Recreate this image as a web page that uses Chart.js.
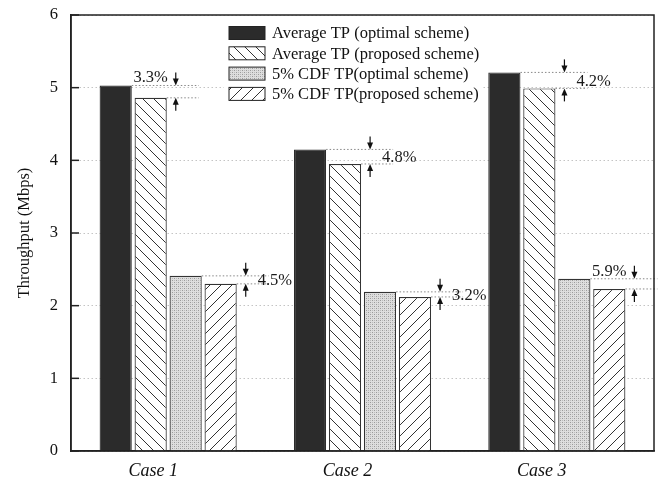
<!DOCTYPE html>
<html>
<head>
<meta charset="utf-8">
<script src="https://cdn.jsdelivr.net/npm/chart.js@4.4.0/dist/chart.umd.min.js"></script>
<style>
  html, body { margin: 0; padding: 0; background: #fff; }
  #wrap { width: 661px; height: 484px; }
</style>
</head>
<body>
<div id="wrap"><canvas id="chart" width="661" height="484"></canvas></div>
<script>
// data
const categories = ['Case 1', 'Case 2', 'Case 3'];
const avgOptimal = [5.03, 4.15, 5.21];
const avgProposed = [4.86, 3.95, 4.99];
const cdfOptimal = [2.41, 2.19, 2.37];
const cdfProposed = [2.30, 2.12, 2.23];
const avgGapLabels = ['3.3%', '4.8%', '4.2%'];
const cdfGapLabels = ['4.5%', '3.2%', '5.9%'];
const seriesNames = [
    'Average TP (optimal scheme)',
    'Average TP (proposed scheme)',
    '5% CDF TP(optimal scheme)',
    '5% CDF TP(proposed scheme)'
];

// where each gap label sits
const avgLabelPlace = ['above', 'right', 'right'];
const cdfLabelPlace = ['right', 'right', 'above'];

const FONT = 'Liberation Serif';
Chart.defaults.font.family = FONT;

function makePattern(size, draw) {
    const c = document.createElement('canvas');
    c.width = size;
    c.height = size;
    const g = c.getContext('2d');
    draw(g, size);
    return g.createPattern(c, 'repeat');
}

const backslash = makePattern(11, (g, s) => {
    g.fillStyle = '#fff';
    g.fillRect(0, 0, s, s);
    g.strokeStyle = '#333';
    g.lineWidth = 1;
    g.beginPath();
    for (const k of [-s, 0, s]) {
        g.moveTo(k, 0);
        g.lineTo(k + s, s);
    }
    g.stroke();
});

const slash = makePattern(11, (g, s) => {
    g.fillStyle = '#fff';
    g.fillRect(0, 0, s, s);
    g.strokeStyle = '#333';
    g.lineWidth = 1;
    g.beginPath();
    for (const k of [-s, 0, s]) {
        g.moveTo(k, s);
        g.lineTo(k + s, 0);
    }
    g.stroke();
});

const dotted = makePattern(4, (g, s) => {
    g.fillStyle = '#dedede';
    g.fillRect(0, 0, s, s);
    g.fillStyle = '#9a9a9a';
    g.fillRect(0, 0, 1, 1);
    g.fillRect(2, 2, 1, 1);
    g.fillStyle = '#bcbcbc';
    g.fillRect(2, 0, 1, 1);
    g.fillRect(0, 2, 1, 1);
});

const fills = ['#2b2b2b', backslash, dotted, slash];

function line(ctx, x1, y1, x2, y2) {
    ctx.beginPath();
    ctx.moveTo(x1, y1);
    ctx.lineTo(x2, y2);
    ctx.stroke();
}

function arrow(ctx, x, tipY, dir) {
    // dir = 1 points down, -1 points up
    ctx.strokeStyle = '#111';
    ctx.lineWidth = 1.2;
    line(ctx, x, tipY - dir * 13, x, tipY - dir * 6);
    ctx.fillStyle = '#111';
    ctx.beginPath();
    ctx.moveTo(x, tipY);
    ctx.lineTo(x - 3, tipY - dir * 7);
    ctx.lineTo(x + 3, tipY - dir * 7);
    ctx.closePath();
    ctx.fill();
}

function drawGap(ctx, optBar, propBar, text, place) {
    const optRight = optBar.x + optBar.width / 2;
    const propRight = propBar.x + propBar.width / 2;
    const yUp = optBar.y;
    const yLo = propBar.y;
    const end = propRight + 32;
    ctx.save();
    ctx.strokeStyle = '#888';
    ctx.lineWidth = 1;
    ctx.setLineDash([1.5, 2]);
    line(ctx, optRight, yUp, end, yUp);
    line(ctx, propRight, yLo, end, yLo);
    ctx.setLineDash([]);
    const ax = propRight + 9;
    arrow(ctx, ax, yUp, 1);
    arrow(ctx, ax, yLo, -1);
    ctx.fillStyle = '#1a1a1a';
    ctx.font = '16.5px "' + FONT + '"';
    if (place === 'above') {
        ctx.textAlign = 'right';
        ctx.textBaseline = 'alphabetic';
        ctx.fillText(text, ax - 8, yUp - 3);
    } else {
        ctx.textAlign = 'left';
        ctx.textBaseline = 'middle';
        ctx.fillText(text, ax + 12, (yUp + yLo) / 2 + 1);
    }
    ctx.restore();
}

const gapPlugin = {
    id: 'gaps',
    afterDatasetsDraw(chart) {
        const ctx = chart.ctx;
        const m0 = chart.getDatasetMeta(0).data;
        const m1 = chart.getDatasetMeta(1).data;
        const m2 = chart.getDatasetMeta(2).data;
        const m3 = chart.getDatasetMeta(3).data;
        categories.forEach((c, i) => {
            drawGap(ctx, m0[i].getProps(['x', 'y', 'width'], true),
                m1[i].getProps(['x', 'y', 'width'], true), avgGapLabels[i], avgLabelPlace[i]);
            drawGap(ctx, m2[i].getProps(['x', 'y', 'width'], true),
                m3[i].getProps(['x', 'y', 'width'], true), cdfGapLabels[i], cdfLabelPlace[i]);
        });
    }
};

const framePlugin = {
    id: 'frame',
    afterDraw(chart) {
        const ctx = chart.ctx;
        const a = chart.chartArea;
        const y = chart.scales.y;
        ctx.save();
        // legend, drawn inside the plot
        const lx = 229, ly = a.top + 18, rowH = 20.3;
        ctx.fillStyle = '#fff';
        ctx.fillRect(lx - 5, ly - 11, 258, rowH * 4 + 2);
        ctx.font = '16.5px "' + FONT + '"';
        ctx.textAlign = 'left';
        ctx.textBaseline = 'middle';
        seriesNames.forEach((name, i) => {
            const cy = ly + i * rowH;
            ctx.fillStyle = fills[i];
            ctx.fillRect(lx, cy - 6.5, 36, 13);
            ctx.strokeStyle = '#222';
            ctx.lineWidth = 1;
            ctx.strokeRect(lx, cy - 6.5, 36, 13);
            ctx.fillStyle = '#111';
            ctx.fillText(name, lx + 43, cy + 1);
        });
        // plot frame
        ctx.strokeStyle = '#222';
        ctx.lineWidth = 1.5;
        ctx.strokeRect(a.left, a.top, a.right - a.left, a.bottom - a.top);
        // inward ticks on the y axis
        y.ticks.forEach(t => {
            const py = y.getPixelForValue(t.value);
            line(ctx, a.left, py, a.left + 8, py);
        });
        ctx.restore();
    }
};

const datasets = [avgOptimal, avgProposed, cdfOptimal, cdfProposed].map((values, i) => ({
    label: seriesNames[i],
    data: values,
    backgroundColor: fills[i],
    borderColor: i === 0 ? '#2b2b2b' : '#333',
    borderWidth: 1.2
}));

new Chart(document.getElementById('chart').getContext('2d'), {
    type: 'bar',
    data: { labels: categories, datasets: datasets },
    options: {
        responsive: false,
        animation: false,
        layout: { padding: { top: 15, right: 7, left: 0, bottom: 0 } },
        datasets: { bar: { categoryPercentage: 0.72, barPercentage: 0.92 } },
        plugins: {
            legend: { display: false },
            tooltip: { enabled: false }
        },
        scales: {
            x: {
                grid: { display: false, drawTicks: false },
                border: { color: '#222', width: 1.5 },
                ticks: { color: '#111', padding: 9, labelOffset: -15, font: { size: 18, style: 'italic' } },
                afterFit(s) { s.height = 33; }
            },
            y: {
                min: 0,
                max: 6,
                ticks: { stepSize: 1, color: '#111', padding: 13, font: { size: 16.5 } },
                grid: { color: '#c4c4c4', drawTicks: false },
                border: { color: '#222', width: 1.5, dash: [1.5, 2.5] },
                title: { display: true, text: 'Throughput (Mbps)', color: '#111', font: { size: 16.5 }, padding: { top: 15, bottom: 0 } },
                afterFit(s) {
                    s.width = 71;
                    s.paddingTop = 0;
                    s.paddingBottom = 0;
                }
            }
        }
    },
    plugins: [gapPlugin, framePlugin]
});
</script>
</body>
</html>
